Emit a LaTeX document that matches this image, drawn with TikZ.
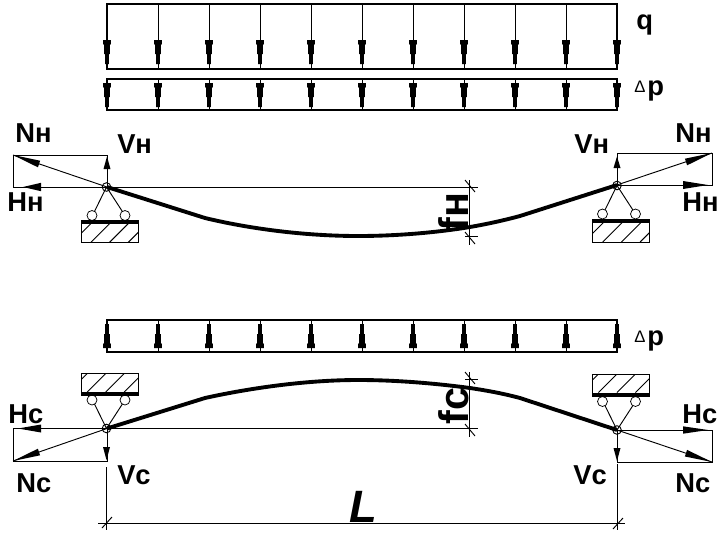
\documentclass[tikz,border=0pt]{standalone}
\usepackage{fontspec}
\setmainfont{Liberation Sans}
\tikzset{
  x=0.75pt,y=-0.75pt,
  thinl/.style={line width=0.7pt,black},
  box/.style={line width=0.85pt,black},
  beam/.style={line width=2.9pt,line join=round},
  lab/.style={font=\bfseries\fontsize{20.5}{21}\selectfont,inner sep=0pt,anchor=base west},
  rlab/.style={font=\bfseries\fontsize{31}{31}\selectfont,inner sep=0pt,anchor=base,rotate=90},
  tri/.style={font=\fontsize{12.5}{12.5}\selectfont,inner sep=0pt,anchor=base west},
}
\newcommand{\supp}[3]{% x, joint y, sign
  \draw[thinl] (#1,#2) circle (4.3);
  \draw[thinl] (#1,#2) -- (#1-14,#2+#3*28.5) (#1,#2) -- (#1+18.5,#2+#3*28.5);
  \draw[line width=0.55pt,fill=white] (#1-14.5,#2+#3*28.5) circle (5) (#1+18.5,#2+#3*28.5) circle (5);
}
\newcommand{\loadarrow}[2]{% x, top y : down
  \fill (#1-3.8,#2) -- (#1+3.8,#2) -- (#1+3.8,#2+4) -- (#1+2.8,#2+5) -- (#1+2.8,#2+14) -- (#1+1.8,#2+14) -- (#1+1.8,#2+24) -- (#1-1.8,#2+24) -- (#1-1.8,#2+14) -- (#1-2.8,#2+14) -- (#1-2.8,#2+5) -- (#1-3.8,#2+4) -- cycle;}
\newcommand{\loadup}[2]{% x, bottom y : up
  \fill (#1-3.8,#2) -- (#1+3.8,#2) -- (#1+3.8,#2-4) -- (#1+2.8,#2-5) -- (#1+2.8,#2-14) -- (#1+1.8,#2-14) -- (#1+1.8,#2-24) -- (#1-1.8,#2-24) -- (#1-1.8,#2-14) -- (#1-2.8,#2-14) -- (#1-2.8,#2-5) -- (#1-3.8,#2-4) -- cycle;}
\begin{document}
\begin{tikzpicture}
\useasboundingbox (0,0) rectangle (722,540);
% load blocks
\draw[box] (107,4) rectangle (617,69);
\draw[box] (107,79) rectangle (617,110);
\draw[box] (107,320) rectangle (617,352);
\foreach \xx in {107,158,209,260,311,362,413,464,515,566,617}{
  \draw[thinl] (\xx,4) -- (\xx,69);
  \draw[thinl] (\xx,79) -- (\xx,110);
  \draw[thinl] (\xx,320) -- (\xx,352);
  \loadarrow{\xx}{40}
  \loadarrow{\xx}{83}
  \loadup{\xx}{348}
}
\node[lab] (q) at (636,29) {q};
\node[lab] (p1) at (647,95) {p};
\node[tri] (d1) at (634,92) {Δ};
\node[lab] (p2) at (647,345) {p};
\node[tri] (d2) at (634,342) {Δ};
% top frame
\draw[thinl] (13,155) rectangle (107,187);
\draw[thinl] (617,153) rectangle (712,185);
\draw[thinl] (107,187) -- (478,187);
\draw[thinl] (469.5,180) -- (469.5,245) (465,236) -- (478,236);
\draw[thinl] (465,180) -- (475,192) (465,232) -- (475,244);
\draw[thinl] (13,155) -- (107,187) (617,185) -- (712,153);
\fill (107,156.5) -- (110.5,169) -- (103.5,169) -- cycle;
\fill (617,156.5) -- (620.5,168) -- (613.5,168) -- cycle;
\fill (13,155) -- (40.1,160.7) -- (37.9,167.3) -- cycle;
\fill (712,153) -- (684.9,158.7) -- (687.1,165.3) -- cycle;
\fill (23,187) -- (41,182.8) -- (41,191.2) -- cycle;
\fill (708,185) -- (683,181) -- (683,189) -- cycle;
\draw[beam] (107,187) -- (205,218) .. controls (255,230) and (310,236) .. (358,236) .. controls (400,236) and (440,232) .. (470,227) .. controls (490,223.5) and (505,220) .. (520,216) -- (617,185);
\supp{106.5}{187}{1}
\supp{617}{185.5}{1}
\fill (81.5,220) rectangle (138.5,224);
\draw[thinl] (81.5,220) rectangle (138.5,242.5);
\fill (592.5,219) rectangle (649.5,223);
\draw[thinl] (592.5,219) rectangle (649.5,242);
\begin{scope}
\clip (81.5,222) rectangle (138.5,242.5);
\foreach \i in {0,1,2,3}{\draw[thinl] (\i*18.7+72,242.5) -- (\i*18.7+92,222.5);}
\end{scope}
\begin{scope}
\clip (592.5,221) rectangle (649.5,242);
\foreach \i in {0,1,2,3}{\draw[thinl] (\i*18.7+584,242) -- (\i*18.7+604,222);}
\end{scope}
\node[lab] (nh1) at (15,142) {Nн};
\node[lab] (hh1) at (7,211) {Нн};
\node[lab] (vh1) at (117,153) {Vн};
\node[lab] (vh2) at (574,153) {Vн};
\node[lab] (nh2) at (675,142) {Nн};
\node[lab] (hh2) at (682,211) {Нн};
\node[rlab] (fh) at (468,212) {fн};
% bottom frame
\draw[thinl] (13,428.5) rectangle (107,461);
\draw[thinl] (617,430) rectangle (712,462);
\draw[thinl] (107,428.5) -- (478,428.5);
\draw[thinl] (469.5,372) -- (469.5,437) (465,379) -- (478,379);
\draw[thinl] (465,372) -- (475,384) (465,424) -- (475,436);
\draw[thinl] (13,461) -- (107,428.5) (617,430) -- (712,462);
\fill (106.5,460) -- (110,447) -- (103,447) -- cycle;
\fill (617,461) -- (620.5,448) -- (613.5,448) -- cycle;
\fill (13,461) -- (40.1,455.3) -- (37.9,448.7) -- cycle;
\fill (712,462) -- (687.1,449.9) -- (684.9,456.5) -- cycle;
\fill (18,428.5) -- (41,424.5) -- (41,432.5) -- cycle;
\fill (708,430) -- (683,426.3) -- (683,433.7) -- cycle;
\draw[beam] (107,428.5) -- (205,398) .. controls (255,387) and (310,380) .. (358,380) .. controls (400,380) and (440,384) .. (470,388) .. controls (490,391) and (505,394) .. (520,398) -- (617,430);
\supp{106.5}{428.5}{-1}
\supp{617}{430}{-1}
\fill (81.5,392) rectangle (138.5,395.5);
\draw[thinl] (81.5,373) rectangle (138.5,395.5);
\fill (592.5,392.5) rectangle (649.5,396);
\draw[thinl] (592.5,374) rectangle (649.5,396);
\begin{scope}
\clip (81.5,373) rectangle (138.5,393);
\foreach \i in {0,1,2,3}{\draw[thinl] (\i*18.5+68.7,392) -- (\i*18.5+88.7,372);}
\end{scope}
\begin{scope}
\clip (592.5,374) rectangle (649.5,393);
\foreach \i in {0,1,2,3}{\draw[thinl] (\i*18.5+580,392.5) -- (\i*18.5+600,372.5);}
\end{scope}
\node[lab] (hc1) at (8,423) {Нс};
\node[lab] (nc1) at (16,492) {Nс};
\node[lab] (vc1) at (117,484) {Vс};
\node[lab] (vc2) at (573,484) {Vс};
\node[lab] (hc2) at (682,423) {Нс};
\node[lab] (nc2) at (675,492) {Nс};
\node[rlab] (fc) at (468,406) {fс};
% L dim
\draw[thinl] (106.5,467) -- (106.5,530) (617,464) -- (617,530);
\draw[thinl] (98,523) -- (625,523);
\draw[thinl] (102,528) -- (112,517) (613,529) -- (623,518);
\node[font=\itshape\bfseries\fontsize{34}{34}\selectfont,inner sep=0pt,anchor=base west] (L) at (349,522) {L};
\end{tikzpicture}
\end{document}
